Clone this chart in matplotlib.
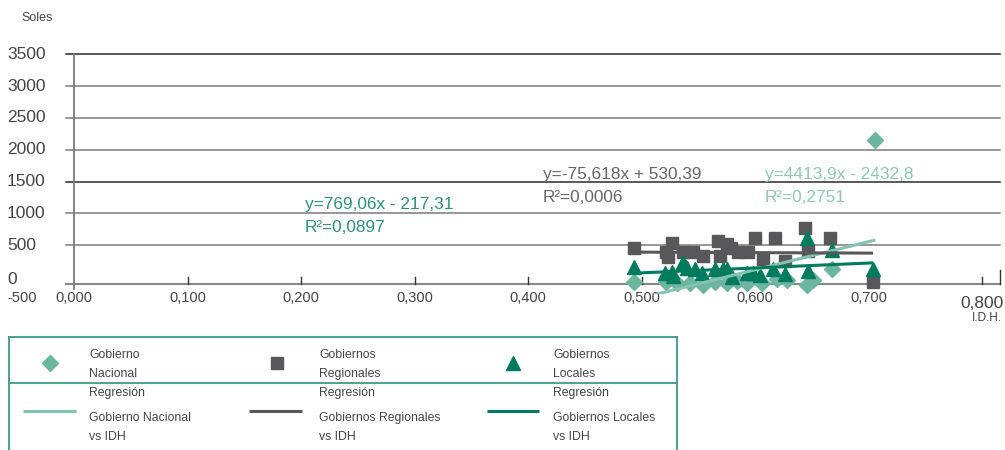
import numpy as np
import matplotlib
matplotlib.use('Agg')
import matplotlib.pyplot as plt
from matplotlib.transforms import blended_transform_factory

#%% data (IDH vs soles per capita)
nac_x = [0.493, 0.522, 0.531, 0.543, 0.554, 0.565, 0.575, 0.584, 0.593, 0.606,
         0.619, 0.628, 0.646, 0.651, 0.668, 0.706]
nac_y = [24, 24, 8, 8, -24, 24, 8, 39, 8, 8, 71, 55, -24, 55, 228, 2253]

reg_x = [0.493, 0.527, 0.522, 0.523, 0.537, 0.545, 0.554, 0.567, 0.575, 0.579,
         0.569, 0.585, 0.594, 0.600, 0.618, 0.607, 0.626, 0.644, 0.647, 0.666, 0.704]
reg_y = [557, 636, 495, 416, 495, 495, 432, 667, 620, 557,
         432, 495, 495, 714, 714, 385, 353, 871, 510, 714, 24]

loc_x = [0.493, 0.521, 0.527, 0.528, 0.537, 0.540, 0.547, 0.553, 0.565, 0.572,
         0.575, 0.580, 0.593, 0.598, 0.604, 0.616, 0.626, 0.646, 0.647, 0.668, 0.704]
loc_y = [259, 165, 181, 118, 338, 243, 228, 165, 228, 228,
         228, 102, 165, 165, 133, 228, 149, 714, 196, 526, 228]

# trendlines (slope, intercept) as printed on the chart
trend_nac = (4413.9, -2432.8)
trend_reg = (-75.618, 530.39)
trend_loc = (769.06, -217.31)

eq_nac = ['y=4413,9x - 2432,8', 'R²=0,2751']
eq_reg = ['y=-75,618x + 530,39', 'R²=0,0006']
eq_loc = ['y=769,06x - 217,31', 'R²=0,0897']

x_ticks = [0.0, 0.1, 0.2, 0.3, 0.4, 0.5, 0.6, 0.7, 0.8]
x_labels = ['0,000', '0,100', '0,200', '0,300', '0,400', '0,500', '0,600', '0,700', '0,800']
y_labels = ['500', '1000', '1500', '2000', '2500', '3000', '3500']
y_shift = 100   # gridlines sit 100 above the printed values in the source chart

#%% styles
c_nac = '#6cb5a1'
c_nac_line = '#82c4b1'
c_reg = '#58585a'
c_loc = '#007b5e'
c_txt = '#444444'

plt.rcParams['font.family'] = ['Liberation Sans', 'DejaVu Sans']

W, H = 1005, 450
fig = plt.figure(figsize=(W / 100, H / 100), dpi=100)

# pixel mapping of the plot area
px_x0, px_per_x = 74, 1135
px_y0, px_per_y = 283.5, 0.06367
def xval(px): return (px - px_x0) / px_per_x
def yval(py): return (px_y0 - py) / px_per_y

ax = fig.add_axes([66 / W, (H - 294) / H, (1000 - 66) / W, (294 - 52) / H])
ax.set_xlim(xval(66), xval(1000))
ax.set_ylim(yval(294), yval(52))
ax.axis('off')

# gridlines + axes
grid_vals = [int(l) + y_shift for l in y_labels]
for v, l in zip(grid_vals, y_labels):
    col = '#2a2a2a' if l in ('3500', '1500') else '#7a7a7a'
    ax.plot([xval(66), xval(1000)], [v, v], color=col, lw=1.1, zorder=1, clip_on=False)
ax.plot([xval(66), xval(1000)], [0, 0], color='#888888', lw=1.5, zorder=1, clip_on=False)
ax.plot([0, 0], [yval(289), yval(54)], color='#7a7a7a', lw=1.3, zorder=1, clip_on=False)
for t in x_ticks[1:]:
    ax.plot([t, t], [0, yval(277)], color='#333333', lw=1.0, zorder=1)
ax.plot([xval(1000), xval(1000)], [0, yval(270)], color='#333333', lw=1.0, zorder=1, clip_on=False)

# scatter series
ax.plot(nac_x, nac_y, ls='none', marker='D', ms=8, color=c_nac, mec=c_nac, zorder=3, clip_on=False)
ax.plot(reg_x, reg_y, ls='none', marker='s', ms=8.5, color=c_reg, mec=c_reg, zorder=4, clip_on=False)
ax.plot(loc_x, loc_y, ls='none', marker='^', ms=10.5, color=c_loc, mec=c_loc, zorder=5, clip_on=False)

# trendlines
for xs, (m, b), col in [(nac_x, trend_nac, c_nac_line), (reg_x, trend_reg, c_reg), (loc_x, trend_loc, c_loc)]:
    xx = np.array([min(xs), max(xs)])
    ax.plot(xx, m * xx + b, color=col, lw=2.2, zorder=6, solid_capstyle='butt')

# tick labels
tr = blended_transform_factory(fig.transFigure, ax.transData)
for v, l in zip(grid_vals, y_labels):
    ax.text(7 / W, v, l, transform=tr, ha='left', va='center', fontsize=12.5, color=c_txt)
ax.text(7 / W, yval(279), '0', transform=tr, ha='left', va='center', fontsize=12.5, color=c_txt)
ax.text(7 / W, yval(298), '-500', transform=tr, ha='left', va='center', fontsize=10.5, color=c_txt)
for t, l in zip(x_ticks[:-1], x_labels[:-1]):
    ax.text(t, yval(298), l, ha='center', va='center', fontsize=10.5, color=c_txt)
ax.text(x_ticks[-1], yval(303), x_labels[-1], ha='center', va='center', fontsize=12.5, color=c_txt)

# overlay in pixel coords for titles, equations and legend
ov = fig.add_axes([0, 0, 1, 1], zorder=10)
ov.set_xlim(0, W)
ov.set_ylim(H, 0)
ov.axis('off')

ov.text(21, 18, 'Soles', fontsize=9, color=c_txt, va='center', ha='left')
ov.text(1002, 318, 'I.D.H.', fontsize=8.5, color=c_txt, va='center', ha='right')

for (x0, y0), lines, col in [((305, 205), eq_loc, '#2a9475'),
                              ((543, 175), eq_reg, '#666666'),
                              ((765, 175), eq_nac, '#8ccab7')]:
    ov.text(x0, y0, lines[0], fontsize=12.4, color=col, va='center', ha='left')
    ov.text(x0, y0 + 23, lines[1], fontsize=12.4, color=col, va='center', ha='left')

# legend box
bc = '#3d9c83'
ov.plot([9, 677], [337, 337], color=bc, lw=1.3)
ov.plot([9, 677], [383, 383], color=bc, lw=1.3)
ov.plot([9, 9], [337, 452], color=bc, lw=1.3, clip_on=False)
ov.plot([677, 677], [337, 452], color=bc, lw=1.3, clip_on=False)

leg_names = [('Gobierno', 'Nacional', 'Gobierno Nacional'),
             ('Gobiernos', 'Regionales', 'Gobiernos Regionales'),
             ('Gobiernos', 'Locales', 'Gobiernos Locales')]
leg_mk = [('D', 8, c_nac, c_nac_line), ('s', 8.0, c_reg, c_reg), ('^', 10, c_loc, c_loc)]
col_mk = [50, 277, 513]
col_txt = [89, 319, 553]
col_ln = [(23, 76), (249, 302), (487, 539)]
for i in range(3):
    mk, ms, mc, lc = leg_mk[i]
    ov.plot([col_mk[i]], [363], ls='none', marker=mk, ms=ms, color=mc)
    ov.plot(col_ln[i], [411, 411], color=lc, lw=2.2, solid_capstyle='butt')
    ov.text(col_txt[i], 355, leg_names[i][0], fontsize=8.8, color=c_txt, va='center')
    ov.text(col_txt[i], 374, leg_names[i][1], fontsize=8.8, color=c_txt, va='center')
    ov.text(col_txt[i], 393, 'Regresión', fontsize=8.8, color=c_txt, va='center')
    ov.text(col_txt[i], 418, leg_names[i][2], fontsize=8.8, color=c_txt, va='center')
    ov.text(col_txt[i], 437, 'vs IDH', fontsize=8.8, color=c_txt, va='center')

fig.savefig('out.png', dpi=100)
